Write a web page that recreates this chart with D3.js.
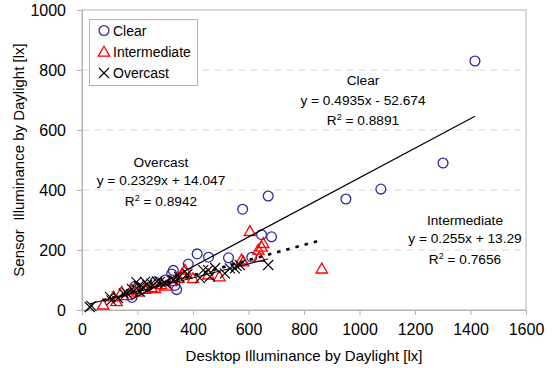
<!DOCTYPE html>
<html>
<head>
<meta charset="utf-8">
<script src="https://cdn.jsdelivr.net/npm/d3@7/dist/d3.min.js"></script>
<style>
  html, body { margin: 0; padding: 0; background: #fff; }
  svg { display: block; font-family: "Liberation Sans", Arial, sans-serif; }
</style>
</head>
<body>
<svg id="chart" width="552" height="368"></svg>
<script>
// Desktop vs sensor illuminance, by sky condition
const clearX = [180, 190, 263, 300, 323, 329, 335, 341, 383, 415, 456, 528, 579, 612, 647, 671, 683, 951, 1077, 1301, 1416];
const clearY = [42, 78, 94, 100, 120, 132, 82, 68, 153, 187, 176, 174, 336, 176, 251, 380, 244, 370, 403, 490, 830];

const interX = [76, 113, 124, 143, 160, 179, 200, 227, 250, 263, 285, 303, 320, 347, 360, 371, 400, 455, 495, 575, 581, 605, 635, 639, 647, 653, 864];
const interY = [17, 44, 28, 60, 48, 67, 60, 69, 75, 72, 85, 80, 95, 106, 120, 133, 105, 117, 111, 167, 161, 262, 200, 176, 210, 222, 137];

const overX = [28, 34, 101, 106, 130, 150, 161, 180, 196, 205, 209, 220, 227, 235, 250, 270, 281, 300, 329, 350, 380, 425, 437, 455, 461, 480, 515, 533, 551, 557, 569, 671];
const overY = [10, 14, 44, 32, 40, 55, 56, 70, 93, 80, 61, 75, 94, 85, 88, 95, 94, 90, 100, 110, 120, 106, 133, 133, 111, 140, 122, 139, 139, 147, 150, 150];

// Linear trend fits: [slope, intercept, R², x from, x to]
const clearFit = [0.4935, -52.674, 0.8891, 180, 1416];
const interFit = [0.255, 13.29, 0.7656, 76, 864];
const overFit = [0.2329, 14.047, 0.8942, 28, 671];

const xTicks = [0, 200, 400, 600, 800, 1000, 1200, 1400, 1600];
const yTicks = [0, 200, 400, 600, 800, 1000];
const legendNames = ["Clear", "Intermediate", "Overcast"];

const svg = d3.select("#chart");
const L = 82, R = 526, T = 10, B = 310;
const x = d3.scaleLinear().domain([0, 1600]).range([L, R]);
const y = d3.scaleLinear().domain([0, 1000]).range([B, T]);

const BLUE = "#2b2ba6", RED = "#ff0000", BLACK = "#000";
const GRID = "#d9d9d9", FRAME = "#b3b3b3";

// gridlines
svg.append("g").selectAll("line").data(yTicks.filter(d => d > 0 && d < 1000)).join("line")
  .attr("x1", L).attr("x2", R).attr("y1", d => y(d)).attr("y2", d => y(d))
  .attr("stroke", GRID).attr("stroke-width", 1).attr("stroke-dasharray", "7,5");

// plot frame
svg.append("rect").attr("x", L).attr("y", T).attr("width", R - L).attr("height", B - T)
  .attr("fill", "none").attr("stroke", FRAME).attr("stroke-width", 1);

// axes
const xAxis = svg.append("g").attr("transform", `translate(0,${B})`)
  .call(d3.axisBottom(x).tickValues(xTicks).tickSize(5).tickPadding(9).tickFormat(d3.format("d")));
const yAxis = svg.append("g").attr("transform", `translate(${L},0)`)
  .call(d3.axisLeft(y).tickValues(yTicks).tickSize(5).tickPadding(11).tickFormat(d3.format("d")));
[xAxis, yAxis].forEach(g => {
  g.select(".domain").attr("stroke", FRAME);
  g.selectAll(".tick line").attr("stroke", FRAME);
  g.selectAll(".tick text").attr("fill", "#000").style("font-size", "16px")
    .style("font-family", "Liberation Sans, Arial, sans-serif");
});

// axis titles
svg.append("text").attr("x", (L + R) / 2).attr("y", 361).attr("text-anchor", "middle")
  .style("font-size", "15px").text("Desktop Illuminance by Daylight [lx]");
svg.append("text").attr("transform", `translate(24,${(T + B) / 2}) rotate(-90)`).attr("text-anchor", "middle")
  .style("font-size", "15px").style("white-space", "pre").text("Sensor  Illuminance by Daylight [lx]");

// trend lines
function trend(fit, style) {
  const [m, c, , x0, x1] = fit;
  const ln = svg.append("line")
    .attr("x1", x(x0)).attr("y1", y(m * x0 + c))
    .attr("x2", x(x1)).attr("y2", y(m * x1 + c))
    .attr("stroke", BLACK);
  Object.entries(style).forEach(([k, v]) => ln.attr(k, v));
}

// marker shapes
const tri = d3.symbol().type(d3.symbolTriangle).size(56);
function drawCircle(g, cx, cy) {
  g.append("circle").attr("cx", cx).attr("cy", cy).attr("r", 4.9)
    .attr("fill", "none").attr("stroke", BLUE).attr("stroke-width", 1.3);
}
function drawTri(g, cx, cy) {
  g.append("path").attr("d", tri()).attr("transform", `translate(${cx},${cy + 0.8})`)
    .attr("fill", "none").attr("stroke", RED).attr("stroke-width", 1.3);
}
function drawX(g, cx, cy) {
  const s = 5;
  g.append("path").attr("d", `M${cx - s},${cy - s}L${cx + s},${cy + s}M${cx - s},${cy + s}L${cx + s},${cy - s}`)
    .attr("fill", "none").attr("stroke", BLACK).attr("stroke-width", 1.1);
}

const pts = svg.append("g");
clearX.forEach((v, i) => drawCircle(pts, x(v), y(clearY[i])));
interX.forEach((v, i) => drawTri(pts, x(v), y(interY[i])));
overX.forEach((v, i) => drawX(pts, x(v), y(overY[i])));

trend(clearFit, { "stroke-width": 1.2 });
trend(overFit, { "stroke-width": 1 });
trend(interFit, { "stroke-width": 2.6, "stroke-dasharray": "3.5,6" });

// fit annotations
function fitLabel(name, fit, cx, ys) {
  const [m, c, r2] = fit;
  const eq = `y = ${m}x ${c < 0 ? "-" : "+"} ${Math.abs(c)}`;
  const g = svg.append("g").attr("text-anchor", "middle").style("font-size", "13.7px");
  g.append("text").attr("x", cx).attr("y", ys[0]).text(name);
  g.append("text").attr("x", cx).attr("y", ys[1]).text(eq);
  const t = g.append("text").attr("x", cx).attr("y", ys[2]);
  t.append("tspan").text("R");
  t.append("tspan").attr("dy", -5).style("font-size", "9px").text("2");
  t.append("tspan").attr("dy", 5).text(` = ${r2}`);
}
fitLabel("Clear", clearFit, 363, [85, 105, 125]);
fitLabel("Overcast", overFit, 161, [167, 185, 206]);
fitLabel("Intermediate", interFit, 465, [225, 243, 264]);

// legend
const lg = svg.append("g");
lg.append("rect").attr("x", 89.5).attr("y", 19.5).attr("width", 108).attr("height", 66)
  .attr("fill", "#fff").attr("stroke", FRAME);
const ly = [30.5, 52, 73];
drawCircle(lg, 104, ly[0]);
drawTri(lg, 104, ly[1]);
drawX(lg, 104, ly[2]);
legendNames.forEach((n, i) => {
  lg.append("text").attr("x", 113).attr("y", ly[i] + 5).style("font-size", "14px").text(n);
});
</script>
</body>
</html>
